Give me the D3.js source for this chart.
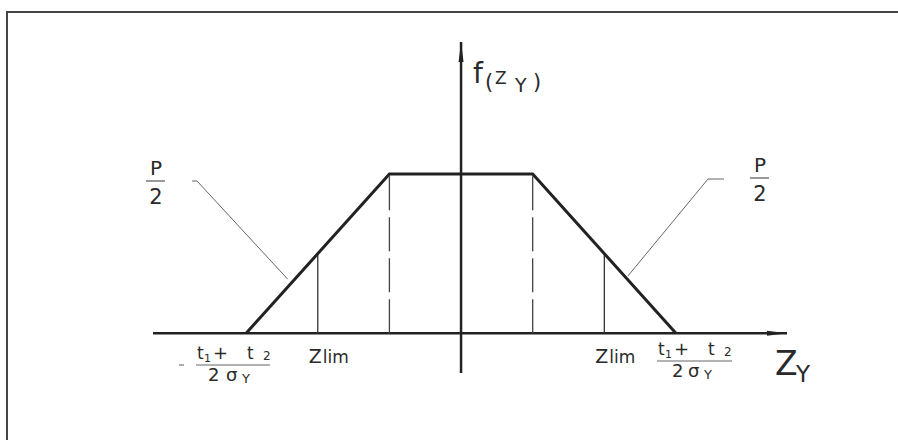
<!DOCTYPE html>
<html>
<head>
<meta charset="utf-8">
<script src="https://cdn.jsdelivr.net/npm/d3@7"></script>
<style>
  html, body { margin: 0; padding: 0; background: #fff; }
  svg { display: block; }
  text { font-family: "DejaVu Sans", "Liberation Sans", sans-serif; fill: #2a2a2a; }
</style>
</head>
<body>
<svg id="chart" width="898" height="440"></svg>
<script>
// Trapezoidal density f(Z_Y): corner abscissas (in units of the plateau half-width) and heights
const cornerZ = [-3, -1, 1, 3];
const cornerF = [0, 1, 1, 0];
// Limit values marked on the flanks
const zLim = [-2, 2];
// Axis extents
const zDomain = [-4.3, 4.55];
const fDomain = [-0.25, 1.83];

const svg = d3.select("#chart");
const ink = "#222";

const x = d3.scaleLinear().domain(zDomain).range([153, 787]);
const y = d3.scaleLinear().domain(fDomain).range([373, 42]);

// Frame
svg.append("path")
  .attr("d", `M7,440 L7,12 L898,12`)
  .attr("fill", "none").attr("stroke", "#444").attr("stroke-width", 2);

// Arrow heads
const defs = svg.append("defs");
defs.append("marker")
  .attr("id", "arrow").attr("viewBox", "0 0 20 8")
  .attr("refX", 20).attr("refY", 4)
  .attr("markerWidth", 20).attr("markerHeight", 8)
  .attr("markerUnits", "userSpaceOnUse")
  .attr("orient", "auto")
  .append("path").attr("d", "M0,1.5 L20,4 L0,6.5 Z").attr("fill", ink);

// Axes
svg.append("line")
  .attr("x1", x(zDomain[0])).attr("x2", x(zDomain[1]))
  .attr("y1", y(0)).attr("y2", y(0))
  .attr("stroke", ink).attr("stroke-width", 2.5)
  .attr("marker-end", "url(#arrow)");
svg.append("line")
  .attr("x1", x(0)).attr("x2", x(0))
  .attr("y1", y(fDomain[0])).attr("y2", y(fDomain[1]))
  .attr("stroke", ink).attr("stroke-width", 2.5)
  .attr("marker-end", "url(#arrow)");

// Dashed verticals under the plateau corners (dashes start at the axis)
svg.selectAll(".plateau-drop")
  .data(cornerZ.filter((d, i) => cornerF[i] > 0))
  .join("line")
  .attr("class", "plateau-drop")
  .attr("x1", d => x(d)).attr("x2", d => x(d))
  .attr("y1", y(0)).attr("y2", y(1))
  .attr("stroke", "#444").attr("stroke-width", 1.3)
  .attr("stroke-dasharray", "34,7");

// Z_lim verticals up to the flanks
const fAt = z => {
  const az = Math.abs(z);
  return az <= 1 ? 1 : Math.max(0, (3 - az) / 2);
};
svg.selectAll(".zlim")
  .data(zLim)
  .join("line")
  .attr("class", "zlim")
  .attr("x1", d => x(d)).attr("x2", d => x(d))
  .attr("y1", d => y(fAt(d))).attr("y2", y(0))
  .attr("stroke", "#333").attr("stroke-width", 1.3);

// Trapezoid
const line = d3.line().x(d => x(d[0])).y(d => y(d[1]));
svg.append("path")
  .datum(cornerZ.map((z, i) => [z, cornerF[i]]))
  .attr("d", line)
  .attr("fill", "none").attr("stroke", ink).attr("stroke-width", 3)
  .attr("stroke-linejoin", "miter");

// Leader lines to the P/2 labels (tail areas)
svg.append("path")
  .attr("d", `M192,181 L197,181 L${x(-2.42)},${y(0.34)}`)
  .attr("fill", "none").attr("stroke", "#666").attr("stroke-width", 1);
svg.append("path")
  .attr("d", `M${x(2.33)},${y(0.36)} L708,179 L724,179`)
  .attr("fill", "none").attr("stroke", "#666").attr("stroke-width", 1);

// P over 2
function pOver2(cx, top) {
  const g = svg.append("g");
  g.append("text").attr("x", cx).attr("y", top + 14).attr("text-anchor", "middle")
    .attr("font-size", 20).text("P");
  g.append("line").attr("x1", cx - 10).attr("x2", cx + 9).attr("y1", top + 20).attr("y2", top + 20)
    .attr("stroke", "#555").attr("stroke-width", 1.2);
  g.append("text").attr("x", cx).attr("y", top + 43).attr("text-anchor", "middle")
    .attr("font-size", 21).text("2");
}
pOver2(156, 161);
pOver2(760, 158);

// f(Z_Y) label
const addText = (xx, yy, size, s) =>
  svg.append("text").attr("x", xx).attr("y", yy).attr("font-size", size).text(s);
addText(473, 83, 28, "f");
addText(485, 89, 21, "(");
addText(495, 84, 17, "Z");
addText(515, 92, 19, "Y");
addText(533, 89, 21, ")");

// Z_Y axis label
addText(775, 375, 33, "Z");
addText(796, 382, 23, "Y");

// Z_lim labels
zLim.forEach(z => {
  const t = svg.append("text").attr("x", x(z) - 9).attr("y", 363);
  t.append("tspan").attr("font-size", 19).text("Z");
  t.append("tspan").attr("font-size", 17).attr("dx", 1).text("lim");
});

// ±(t1 + t2)/(2 σY) labels at the support ends
function supportLabel(xn, yn, xd, yd, sign, barLen) {
  addText(xn, yn, 17, "t");
  addText(xn + 7, yn + 3, 11, "1");
  addText(xn + 16, yn, 18, "+");
  addText(xn + 50, yn, 17, "t");
  addText(xn + 66, yn + 1, 12, "2");
  svg.append("line").attr("x1", xn - 1).attr("x2", xn - 1 + barLen)
    .attr("y1", yn + 6).attr("y2", yn + 6)
    .attr("stroke", "#666").attr("stroke-width", 1);
  addText(xd[0], yd, 18, "2");
  addText(xd[1], yd, 18, "σ");
  addText(xd[1] + 16, yd + 2, 13, "Y");
  if (sign < 0) {
    svg.append("line").attr("x1", 179).attr("x2", 184).attr("y1", yn + 6).attr("y2", yn + 6)
      .attr("stroke", "#777").attr("stroke-width", 1.2);
  }
}
supportLabel(197, 359, [208, 226], 381, -1, 74);
supportLabel(658, 355, [672, 688], 377, 1, 75);
</script>
</body>
</html>
